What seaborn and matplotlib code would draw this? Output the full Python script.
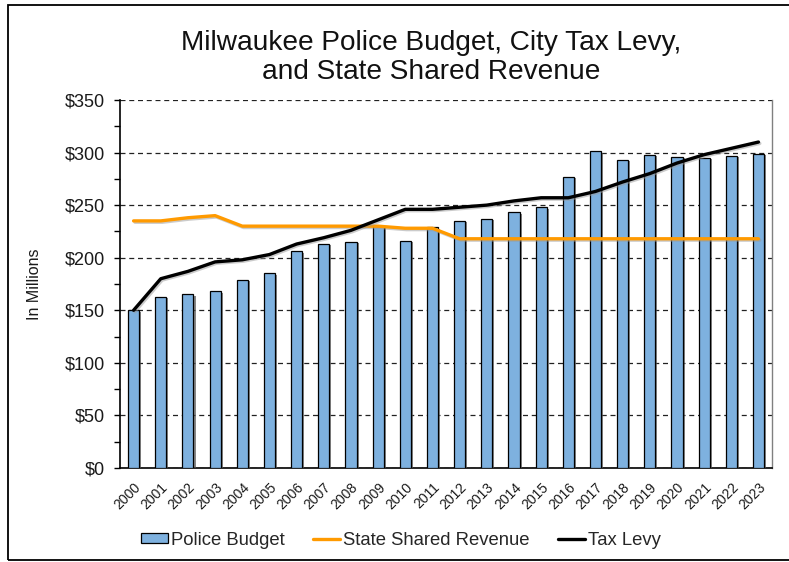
import numpy as np
import pandas as pd
import matplotlib
matplotlib.use("Agg")
import matplotlib.pyplot as plt
import matplotlib.patheffects as pe
from matplotlib.patches import Patch, Rectangle
from matplotlib.lines import Line2D
from matplotlib.ticker import MultipleLocator, FuncFormatter
import seaborn as sns

# Annual figures, in millions of dollars
years = [str(y) for y in range(2000, 2024)]
police_budget = [150, 163, 165, 168, 179, 185, 206, 213, 215, 230, 216, 229,
                 235, 237, 243, 248, 277, 301, 293, 298, 296, 295, 297, 299]
tax_levy = [150, 180, 187, 196, 198, 203, 213, 219, 226, 236, 246, 246,
            248, 250, 254, 257, 257, 263, 272, 280, 290, 298, 304, 310]
state_shared_revenue = [235, 235, 238, 240, 230, 230, 230, 230, 230, 230, 228, 228,
                        218, 218, 218, 218, 218, 218, 218, 218, 218, 218, 218, 218]

df = pd.DataFrame({
    "year": years,
    "police": police_budget,
    "levy": tax_levy,
    "ssr": state_shared_revenue,
})
df["pos"] = np.arange(len(df))

sns.set_theme(style="white")
plt.rcParams["font.family"] = ["Liberation Sans", "DejaVu Sans"]

BAR_COLOR = "#7EB1DF"
ORANGE = "#FF9A00"
TEXT = "#1a1a1a"

fig = plt.figure(figsize=(7.89, 5.62), dpi=100)
ax = fig.add_axes([0.1521, 0.1673, 0.8264, 0.6548])

sns.barplot(data=df, x="year", y="police", order=years, color=BAR_COLOR,
            width=0.41, edgecolor="black", linewidth=0.9, saturation=1,
            ax=ax, zorder=3)
for bar in ax.patches:
    bar.set_path_effects([pe.SimplePatchShadow(offset=(1.5, -1.0), shadow_rgbFace="#555555", alpha=0.7),
                          pe.Normal()])

line_shadow = [pe.SimpleLineShadow(offset=(1, -1), shadow_color="#999999", alpha=0.5), pe.Normal()]
sns.lineplot(data=df, x="pos", y="ssr", color=ORANGE, linewidth=2.4, ax=ax,
             zorder=4, path_effects=line_shadow)
sns.lineplot(data=df, x="pos", y="levy", color="black", linewidth=2.4, ax=ax,
             zorder=5, path_effects=line_shadow)

ax.set_xlim(-0.5, len(years) - 0.5)
ax.set_ylim(0, 350)
ax.yaxis.set_major_locator(MultipleLocator(50))
ax.yaxis.set_minor_locator(MultipleLocator(25))
ax.yaxis.set_major_formatter(FuncFormatter(lambda v, _: f"${v:.0f}"))
ax.grid(axis="y", which="major", linestyle=(0, (4, 3)), color="#222222", linewidth=0.9, zorder=0)
ax.grid(axis="x", visible=False)
ax.set_axisbelow(True)

ax.tick_params(axis="y", which="both", direction="out", length=4, width=1,
               color="black", left=True, labelsize=13, pad=7, labelcolor=TEXT)
ax.tick_params(axis="x", which="both", bottom=False, labelsize=10, pad=3, labelcolor=TEXT)
ax.set_xticks(df["pos"])
ax.set_xticklabels(years, rotation=45, ha="right", rotation_mode="anchor")

for side in ["left", "bottom"]:
    ax.spines[side].set_color("black")
    ax.spines[side].set_linewidth(1.2)
ax.spines["top"].set_visible(False)
ax.spines["right"].set_color("#808080")
ax.spines["right"].set_linewidth(1.0)

ax.set_xlabel("")
ax.set_ylabel("In Millions", fontsize=11.5, color=TEXT, labelpad=16)

fig.text(0.546, 0.947, "Milwaukee Police Budget, City Tax Levy,\nand State Shared Revenue",
         ha="center", va="top", fontsize=20.2, linespacing=1.16, color="#111111")

handles = [
    Patch(facecolor=BAR_COLOR, edgecolor="black", linewidth=0.9),
    Line2D([0], [0], color=ORANGE, linewidth=2.4),
    Line2D([0], [0], color="black", linewidth=2.4),
]
fig.legend(handles, ["Police Budget", "State Shared Revenue", "Tax Levy"],
           loc="center", bbox_to_anchor=(0.508, 0.039), ncol=3, frameon=False,
           fontsize=13.3, handlelength=1.45, handletextpad=0.17, columnspacing=1.55,
           handleheight=0.5)

fig.patches.append(Rectangle((8 / 789, 2 / 562), 1.1, 555 / 562, transform=fig.transFigure,
                             fill=False, edgecolor="black", linewidth=1.3))

fig.savefig("out.png", dpi=100)
